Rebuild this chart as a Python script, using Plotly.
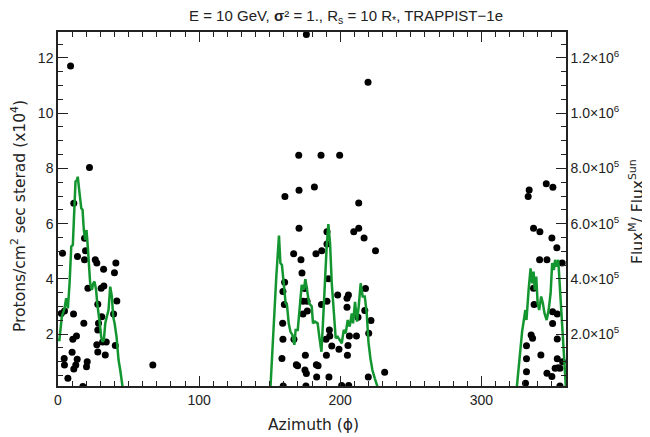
import plotly.graph_objects as go

# Scatter dots: azimuth (deg) and proton flux (x10^4)
dot_az = [8.9, 22.3, 11.2, 3.2, 13.8, 18.8, 19.5, 18.8, 26.4, 27.5, 32.3, 41.0, 40.0, 21.2, 30.6, 32.5,
          41.7, 28.2, 4.6, 2.3, 11.0, 39.4, 31.0, 18.3, 28.7, 28.2, 13.1, 10.5, 27.5, 31.6, 34.2, 28.2,
          33.5, 40.6, 10.0, 4.4, 13.6, 20.7, 4.6, 12.6, 20.2, 11.2, 7.0, 17.6, 67.2,
          176.0, 219.7, 170.6, 186.4, 199.6, 181.7, 160.8, 170.8, 213.1, 170.8, 190.6, 209.6, 213.1,
          216.9, 225.0, 190.6, 167.0, 186.9, 182.8, 172.2, 172.9, 160.6, 159.4, 174.8, 191.6, 217.9,
          198.2, 205.8, 204.8, 160.4, 173.6, 176.5, 186.7, 190.6, 204.8, 217.4, 173.6, 176.7, 212.6,
          221.8, 159.2, 192.3, 220.2, 167.2, 159.4, 189.9, 192.6, 206.5, 211.5, 194.0, 199.1, 205.5,
          190.2, 205.1, 175.3, 158.7, 168.9, 183.1, 175.0, 231.5, 169.8, 176.0, 184.3, 183.3, 192.0,
          219.9, 159.6, 175.7, 201.0, 206.0,
          346.0, 350.7, 333.9, 333.2, 337.0, 341.5, 350.0, 353.5, 341.3, 346.5, 337.0, 337.4, 350.5,
          353.8, 350.5, 335.3, 336.3, 332.0, 353.8, 342.2, 332.0, 353.8, 352.3, 355.7, 332.0, 346.5,
          350.0, 354.5, 331.3, 355.7, 357.3, 357.6]
dot_val = [11.71, 8.03, 6.74, 4.93, 4.81, 5.47, 5.02, 4.69, 4.69, 4.57, 4.35, 4.57, 4.22, 3.66, 3.66, 3.74,
           3.20, 3.08, 2.84, 2.75, 2.73, 2.73, 2.63, 2.39, 2.39, 2.15, 1.93, 1.81, 1.61, 1.71, 1.71, 1.35,
           1.24, 1.59, 1.34, 1.12, 1.09, 1.00, 0.88, 0.88, 0.82, 0.74, 0.40, 0.10, 0.88,
           12.85, 11.12, 8.48, 8.48, 8.48, 7.33, 6.98, 7.21, 6.75, 5.83, 5.71, 5.71, 5.83,
           5.48, 5.02, 5.26, 4.91, 5.02, 4.91, 4.69, 4.21, 3.88, 3.54, 3.65, 4.00, 3.65,
           3.42, 3.42, 3.30, 3.07, 3.19, 3.19, 3.07, 3.19, 2.97, 2.85, 2.73, 2.84, 2.61,
           2.49, 2.39, 2.15, 2.03, 1.81, 1.81, 1.81, 1.93, 1.93, 1.93, 1.57, 1.45, 1.59,
           1.23, 1.23, 1.23, 1.12, 0.89, 0.89, 0.70, 0.62, 0.85, 0.57, 0.85, 0.45, 0.45,
           0.45, 0.12, 0.12, 0.14, 0.14,
           7.44, 7.32, 7.22, 6.98, 5.83, 5.71, 5.48, 5.13, 4.69, 4.69, 3.66, 3.07, 2.81,
           2.73, 2.38, 1.97, 1.85, 1.58, 1.82, 1.24, 1.11, 1.11, 0.76, 0.76, 0.64, 0.58,
           0.46, 0.78, 0.22, 0.12, 4.57, 1.00]

# Green curve: azimuth (deg) and flux ratio (x10^5)
line_az = [0, 1, 2.7, 4.6, 5.8, 7.0, 8.2, 9.4, 10.5, 11.7, 12.4, 13.3, 14.0, 15.0, 16.5, 17.4, 18.3, 19.3,
           20.2, 21.1, 21.8, 22.8, 24.0, 25.0, 25.9, 27.0, 27.8, 28.7, 29.6, 30.6, 31.6, 32.5, 33.5, 34.6,
           35.8, 37.0, 38.2, 39.1, 40.1, 41.5, 42.9, 44.1, 46.0,
           150.5, 152.8, 154.7, 156.6, 157.6, 158.7, 160.1, 161.3, 162.3, 163.5, 164.7, 166.1, 167.5,
           168.4, 169.9, 171.3, 172.7, 174.1, 175.3, 176.5, 177.9, 179.8, 180.7, 182.1, 184.0, 185.2,
           186.7, 188.1, 189.2, 190.4, 191.6, 192.8, 194.0, 195.4, 196.8, 198.2, 199.6, 201.1, 202.5,
           203.9, 205.3, 206.7, 208.2, 209.1, 210.5, 211.9, 213.1, 214.5, 215.9, 217.4, 218.8, 220.0,
           221.4, 222.8, 224.5, 227.0,
           325.0, 328.9, 331.2, 332.0, 333.5, 334.9, 336.0, 337.0, 337.9, 338.9, 339.9, 341.0, 342.4,
           343.6, 344.8, 346.3, 347.7, 349.1, 350.2, 351.4, 352.3, 353.3, 354.5, 355.5, 356.4, 357.6,
           358.6, 360.0]
line_val = [1.79, 1.79, 2.63, 2.93, 3.30, 2.93, 3.84, 5.17, 5.23, 6.74, 7.52, 7.56, 7.70, 7.22, 6.56, 6.50,
            5.77, 5.41, 5.77, 5.17, 4.57, 3.84, 3.60, 3.84, 3.90, 3.60, 3.12, 2.63, 2.39, 1.90, 1.72, 1.79,
            2.39, 2.63, 2.87, 3.72, 3.36, 2.63, 2.39, 1.90, 1.06, 0.70, 0.0,
            0.0, 2.39, 4.08, 5.57, 4.57, 4.50, 3.84, 3.12, 3.05, 2.39, 2.09, 1.97, 1.61,
            2.15, 2.15, 3.00, 3.78, 3.60, 3.99, 3.60, 3.12, 3.00, 2.39, 2.45, 2.39, 1.90,
            1.36, 2.75, 4.08, 5.17, 5.98, 5.29, 3.84, 2.87, 1.85, 1.90, 1.79, 1.67, 2.15,
            2.03, 2.51, 2.27, 2.75, 2.39, 3.17, 2.45, 3.00, 3.84, 3.36, 3.36, 2.75, 1.72,
            1.12, 0.70, 0.40, 0.0,
            0.0, 2.09, 2.87, 2.51, 3.60, 4.38, 3.84, 4.26, 3.60, 4.08, 3.12, 2.87, 3.36,
            3.12, 2.75, 2.51, 2.87, 3.48, 4.57, 4.32, 4.69, 4.44, 4.69, 3.84, 2.87, 2.03,
            0.94, 0.0]

left_ticks = [2, 4, 6, 8, 10, 12]
right_tick_vals = [2e5, 4e5, 6e5, 8e5, 10e5, 12e5]
right_tick_text = ["2.0×10<sup>5</sup>", "4.0×10<sup>5</sup>", "6.0×10<sup>5</sup>",
                   "8.0×10<sup>5</sup>", "1.0×10<sup>6</sup>", "1.2×10<sup>6</sup>"]
x_ticks = [0, 100, 200, 300]

y_lo, y_hi = 0.12, 12.94
font = "Liberation Sans, Arial, sans-serif"
title_font = "DejaVu Sans, sans-serif"

# page body adds an 8px offset; plot area target: x 58..566, y 32..386
OFF = 8
W, H = 650 - OFF, 437 - OFF
L, R, T, B = 58 - OFF, 650 - 566, 32 - OFF, 437 - 386
PW, PH = 566 - 58, 386 - 32

fig = go.Figure()
fig.add_trace(go.Scatter(x=dot_az, y=dot_val, mode="markers",
                         marker=dict(color="black", size=7), showlegend=False, yaxis="y"))
fig.add_trace(go.Scatter(x=line_az, y=[v * 1e5 for v in line_val], mode="lines",
                         line=dict(color="#13962f", width=2.5), showlegend=False, yaxis="y2"))

axis_common = dict(ticks="inside", ticklen=10, tickwidth=1, tickcolor="#222", showline=True,
                   linecolor="#222", linewidth=1.5, showgrid=False, zeroline=False,
                   tickfont=dict(size=14), automargin=False)

fig.update_layout(
    width=W, height=H,
    margin=dict(l=L, r=R, t=T, b=B, autoexpand=False),
    paper_bgcolor="white", plot_bgcolor="white",
    font=dict(family=font, size=14, color="#222"),
    title=dict(text="E = 10 GeV, <b>σ</b>² = 1., R<sub>s</sub> = 10 R<sub>*</sub>, TRAPPIST−1e",
               x=(346 - OFF) / W, xanchor="center", y=1 - 2 / H, yanchor="top",
               font=dict(size=15, family=font, color="#222")),
    xaxis=dict(range=[0, 360], tickvals=x_ticks, mirror="ticks",
               minor=dict(dtick=10, tick0=0, ticks="inside", ticklen=5, tickcolor="#222", showgrid=False),
               **axis_common),
    yaxis=dict(range=[y_lo, y_hi], tickvals=left_ticks, mirror=False,
               minor=dict(dtick=0.5, tick0=0, ticks="inside", ticklen=5, tickcolor="#222", showgrid=False),
               **axis_common),
    yaxis2=dict(range=[y_lo * 1e5, y_hi * 1e5], overlaying="y", side="right",
                tickvals=right_tick_vals, ticktext=right_tick_text,
                minor=dict(dtick=0.5e5, tick0=0, ticks="inside", ticklen=5, tickcolor="#222", showgrid=False),
                **axis_common),
    annotations=[
        dict(text="Azimuth (ϕ)", xref="paper", yref="paper", x=(313 - 58) / PW, y=-(425 - 386) / PH,
             xanchor="center", yanchor="middle", showarrow=False,
             font=dict(size=15.5, family=title_font)),
        dict(text="Protons/cm<sup>2</sup> sec sterad (x10<sup>4</sup>)", textangle=-90,
             xref="paper", yref="paper", x=(18 - 58) / PW, y=(386 - 216) / PH,
             xanchor="center", yanchor="middle", showarrow=False,
             font=dict(size=15.5, family=title_font)),
        dict(text="Flux<sup>M</sup>/ Flux<sup>Sun</sup>", textangle=-90,
             xref="paper", yref="paper", x=(636 - 58) / PW, y=(386 - 212) / PH,
             xanchor="center", yanchor="middle", showarrow=False,
             font=dict(size=15.5, family=title_font)),
    ],
)

fig.write_html("out.html")
